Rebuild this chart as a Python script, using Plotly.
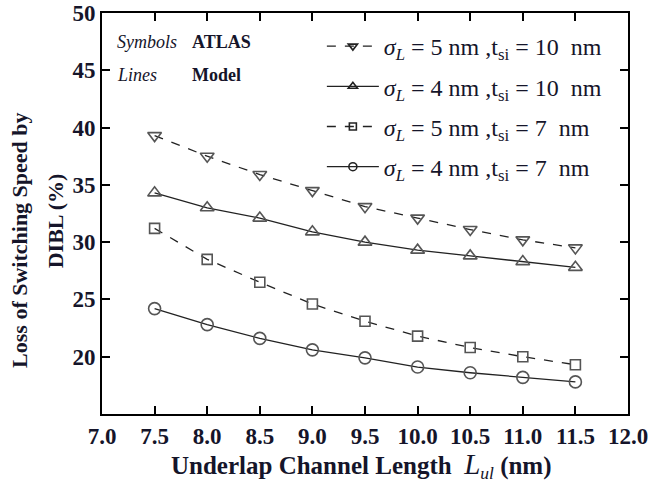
import plotly.graph_objects as go

# Underlap channel length (nm)
l_ul = [7.5, 8.0, 8.5, 9.0, 9.5, 10.0, 10.5, 11.0, 11.5]

# Loss of switching speed by DIBL (%)
s5_t10 = [39.3, 37.5, 35.9, 34.5, 33.1, 32.1, 31.1, 30.2, 29.5]
s4_t10 = [34.3, 33.0, 32.1, 30.9, 30.0, 29.3, 28.8, 28.3, 27.8]
s5_t7 = [31.2, 28.5, 26.5, 24.6, 23.1, 21.8, 20.8, 20.0, 19.3]
s4_t7 = [24.2, 22.8, 21.6, 20.6, 19.9, 19.1, 18.6, 18.2, 17.8]

labels = [
    "<i>σ</i><sub><i>L</i></sub> = 5 nm ,t<sub>si</sub> = 10  nm",
    "<i>σ</i><sub><i>L</i></sub> = 4 nm ,t<sub>si</sub> = 10  nm",
    "<i>σ</i><sub><i>L</i></sub> = 5 nm ,t<sub>si</sub> = 7  nm",
    "<i>σ</i><sub><i>L</i></sub> = 4 nm ,t<sub>si</sub> = 7  nm",
]
series = [s5_t10, s4_t10, s5_t7, s4_t7]
symbols = ["triangle-down-open", "triangle-up-open", "square-open", "circle-open"]
dashes = ["dash", "solid", "dash", "solid"]

SERIF = "Liberation Serif, Times New Roman, serif"
INK = "#15152a"
LINE = "#222222"
MARK = "#555555"

fig = go.Figure()
for i, (ys, name, sym, dash) in enumerate(zip(series, labels, symbols, dashes)):
    # data curve with full-size symbols
    fig.add_trace(go.Scatter(
        x=l_ul, y=ys, name=name, mode="lines+markers", showlegend=False,
        legendgroup=f"g{i}",
        line=dict(color=LINE, width=1.3, dash=dash),
        marker=dict(symbol=sym, size=12 if sym != "square-open" else 10,
                    color=MARK, line=dict(width=1.6, color=MARK)),
    ))
    # legend key with a smaller symbol
    fig.add_trace(go.Scatter(
        x=[None], y=[None], name=name, mode="lines+markers",
        legendgroup=f"g{i}",
        line=dict(color=LINE, width=1.3, dash=dash),
        marker=dict(symbol=sym, size=8 if sym != "square-open" else 7,
                    color=LINE, line=dict(width=1.6, color=LINE)),
    ))


def note(x, y, text, size):
    fig.add_annotation(x=x, y=y, xref="paper", yref="paper", showarrow=False,
                       xanchor="left", yanchor="middle", text=text,
                       font=dict(family=SERIF, size=size, color=INK))


# method key in the upper-left corner
note(0.025, 0.928, "<i>Symbols</i>", 18)
note(0.167, 0.928, "<b>ATLAS</b>", 18)
note(0.025, 0.845, "<i>Lines</i>", 18)
note(0.167, 0.845, "<b>Model</b>", 18)

# axis titles
fig.add_annotation(x=0.493, y=-0.128, xref="paper", yref="paper", showarrow=False,
                   xanchor="center", yanchor="middle",
                   text="<b>Underlap Channel Length</b>  <i><span style='font-size:29px'>L</span><sub>ul</sub></i> <b>(nm)</b>",
                   font=dict(family=SERIF, size=25, color=INK))
fig.add_annotation(x=-0.156, y=0.434, xref="paper", yref="paper", showarrow=False,
                   xanchor="center", yanchor="middle", textangle=-90,
                   text="<b>Loss of Switching Speed by</b>",
                   font=dict(family=SERIF, size=22, color=INK))
fig.add_annotation(x=-0.089, y=0.481, xref="paper", yref="paper", showarrow=False,
                   xanchor="center", yanchor="middle", textangle=-90,
                   text="<b>DIBL (%)</b>",
                   font=dict(family=SERIF, size=22, color=INK))

axis_common = dict(
    showgrid=False, zeroline=False, showline=True, linecolor="black", linewidth=2,
    mirror="ticks", ticks="inside", ticklen=8, tickwidth=1.5, tickcolor="black",
    automargin=False, ticklabeloverflow="allow",
    tickfont=dict(family=SERIF, size=23, color=INK, weight="bold"),
)

fig.update_layout(
    width=648, height=482,
    margin=dict(l=102, r=20, t=13, b=68),
    plot_bgcolor="white", paper_bgcolor="white",
    font=dict(family=SERIF, color=INK),
    showlegend=True,
    legend=dict(
        x=0.418, y=0.9726, xanchor="left", yanchor="top",
        bgcolor="rgba(0,0,0,0)", tracegroupgap=6,
        font=dict(family=SERIF, size=24, color=INK),
        itemwidth=52,
    ),
    xaxis=dict(
        range=[7.0, 12.0],
        tickvals=[7.0, 7.5, 8.0, 8.5, 9.0, 9.5, 10.0, 10.5, 11.0, 11.5, 12.0],
        tickformat=".1f",
        **axis_common,
    ),
    yaxis=dict(
        range=[15, 50], tickvals=[20, 25, 30, 35, 40, 45, 50],
        **axis_common,
    ),
)

fig.write_html("out.html")
